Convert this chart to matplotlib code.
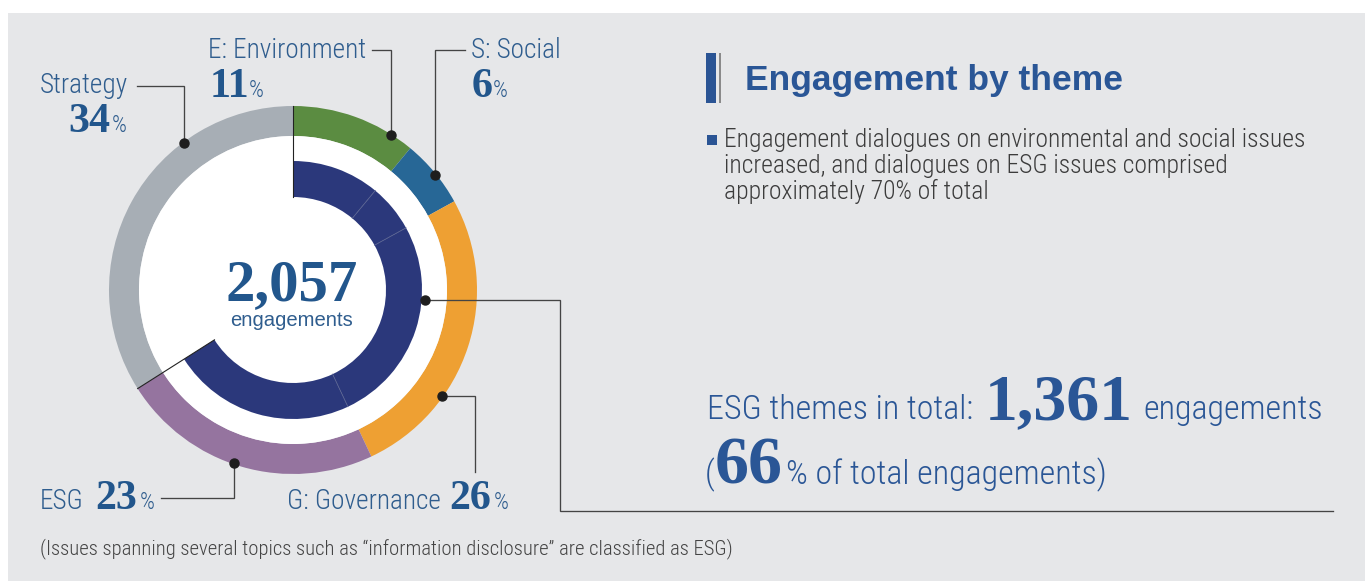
import matplotlib
matplotlib.use("Agg")
import matplotlib.pyplot as plt
from matplotlib import font_manager as fm
from matplotlib.patches import Rectangle, Circle
import numpy as np

# ---- data -------------------------------------------------------------
themes = ["E: Environment", "S: Social", "G: Governance", "ESG", "Strategy"]
shares = [11, 6, 26, 23, 34]                 # % of all engagements
is_esg = [True, True, True, True, False]     # themes counted as ESG
total_engagements = "2,057"
esg_engagements = "1,361"
esg_share = "66"

ring_colors = ["#5b8c41", "#276796", "#eea033", "#95749f", "#a7aeb5"]
NAVY = "#2b387b"
BG = "#e6e7e9"
LABEL_BLUE = "#2f5d8e"
NUM_BLUE = "#22568c"
TITLE_BLUE = "#2a5696"
TEXT_GREY = "#3c3c3c"
LEADER = "#444444"

# ---- fonts -------------------------------------------------------------
installed = {f.name for f in fm.fontManager.ttflist}


def pick(*names):
    for n in names:
        if n in installed:
            return n
    return "DejaVu Sans"


NARROW = pick("Liberation Sans Narrow", "Roboto Condensed", "Open Sans Condensed", "Liberation Sans")
SANS = pick("Liberation Sans", "Roboto", "DejaVu Sans")
SERIF = pick("Liberation Serif", "DejaVu Serif")
LIGHT = "light"

# ---- canvas in pixel units ----------------------------------------------
W, H = 1365, 581
fig = plt.figure(figsize=(W / 100, H / 100), dpi=100, facecolor="white")
ax = fig.add_axes([0, 0, 1, 1])
renderer = fig.canvas.get_renderer()


def Y(y):
    return H - y


def fit(x0, x1, yb, s, family, color, weight="normal", size=None):
    """Place text on baseline yb starting at x0; scale it to end at x1 unless size is given."""
    t = ax.text(x0, Y(yb), s, fontsize=size or 20, family=[family, "DejaVu Sans"],
                weight=weight, color=color, va="baseline", ha="left", zorder=10)
    if size is None:
        w = t.get_window_extent(renderer).width
        size = 20 * (x1 - x0) / w
        t.set_fontsize(size)
    return size


ax.add_patch(Rectangle((8, 0), W - 8, H - 13, facecolor=BG, edgecolor="none", zorder=0))

# ---- donut -------------------------------------------------------------
cx, cy = 293, Y(290)
R_OUT, R_OUT_IN = 184, 154
R_NAVY, R_NAVY_IN = 129, 93

outer, _ = ax.pie(shares, radius=R_OUT, center=(cx, cy), startangle=90, counterclock=False,
                  colors=ring_colors, wedgeprops=dict(width=R_OUT - R_OUT_IN, linewidth=0))
for w in outer:
    w.set_zorder(1)
ax.add_patch(Circle((cx, cy), R_OUT_IN, facecolor="white", edgecolor="none", zorder=1.5))

navy_colors = [NAVY if f else "none" for f in is_esg]
inner, _ = ax.pie(shares, radius=R_NAVY, center=(cx, cy), startangle=90, counterclock=False,
                  colors=navy_colors, wedgeprops=dict(width=R_NAVY - R_NAVY_IN, linewidth=0))
for w in inner:
    w.set_zorder(2)

frac = np.cumsum(shares) / np.sum(shares)


def polar(f, r):
    th = np.deg2rad(90 - 360 * f)
    return cx + r * np.cos(th), cy + r * np.sin(th)


# thin separators between the ESG themes inside the navy ring
for f in frac[:3]:
    (x0, y0), (x1, y1) = polar(f, R_NAVY_IN), polar(f, R_NAVY)
    ax.plot([x0, x1], [y0, y1], color="#56608f", lw=0.6, zorder=3)

# dark separators where the ESG group starts and ends
esg_end = frac[int(np.sum(is_esg)) - 1]
for f in (0.0, esg_end):
    (x0, y0), (x1, y1) = polar(f, R_NAVY_IN), polar(f, R_OUT)
    ax.plot([x0, x1], [y0, y1], color="#222222", lw=0.8, zorder=3)


def dot(x, y):
    ax.plot([x], [y], "o", color="#1e1e1e", ms=6.5, zorder=6)


def leader(pts):
    xs, ys = zip(*pts)
    ax.plot(xs, ys, color=LEADER, lw=0.95, zorder=5, solid_joinstyle="miter")


# leader anchors (fraction of the way round the ring, clockwise from top)
R_DOT = 183
anchor = {"Strategy": 0.898, "E: Environment": 0.09, "S: Social": 0.142,
          "G: Governance": 0.348, "ESG": 0.552}

x, y = polar(anchor["Strategy"], R_DOT)
leader([(x, y), (x, Y(86)), (137, Y(86))]); dot(x, y)
x, y = polar(anchor["E: Environment"], R_DOT)
leader([(x, y), (x, Y(50)), (372, Y(50))]); dot(x, y)
x, y = polar(anchor["S: Social"], R_DOT)
leader([(x, y), (x, Y(50)), (465, Y(50))]); dot(x, y)
x, y = polar(anchor["G: Governance"], R_DOT)
leader([(x, y), (475, y), (475, Y(472))]); dot(x, y)
x, y = polar(anchor["ESG"], R_DOT)
leader([(x, y), (x, Y(498)), (161, Y(498))]); dot(x, y)
x, y = polar(0.262, 132)
leader([(x, y), (560, y), (560, Y(511)), (1333, Y(511))]); dot(x, y)

# ---- ring labels -----------------------------------------------------------
lab = fit(40, 128, 93, themes[4], NARROW, LABEL_BLUE, weight=LIGHT)
fit(208, 365, 58, themes[0], NARROW, LABEL_BLUE, weight=LIGHT, size=lab)
fit(471, 562, 58, themes[1], NARROW, LABEL_BLUE, weight=LIGHT, size=lab)
fit(40, 88, 509, themes[3], NARROW, LABEL_BLUE, weight=LIGHT, size=lab)
fit(287, 441, 509, themes[2], NARROW, LABEL_BLUE, weight=LIGHT, size=lab)

num = fit(68, 110, 132, str(shares[4]), SERIF, NUM_BLUE, weight="bold")
pct = fit(112, 127, 132, "%", NARROW, LABEL_BLUE, weight=LIGHT)
fit(210, 248, 97, str(shares[0]), SERIF, NUM_BLUE, weight="bold", size=num)
fit(249, 264, 97, "%", NARROW, LABEL_BLUE, weight=LIGHT, size=pct)
fit(472, 490, 97, str(shares[1]), SERIF, NUM_BLUE, weight="bold", size=num)
fit(493, 508, 97, "%", NARROW, LABEL_BLUE, weight=LIGHT, size=pct)
fit(95, 137, 509, str(shares[3]), SERIF, NUM_BLUE, weight="bold", size=num)
fit(140, 155, 509, "%", NARROW, LABEL_BLUE, weight=LIGHT, size=pct)
fit(449, 491, 509, str(shares[2]), SERIF, NUM_BLUE, weight="bold", size=num)
fit(494, 510, 509, "%", NARROW, LABEL_BLUE, weight=LIGHT, size=pct)

# ---- centre ----------------------------------------------------------------
fit(226, 358, 300, total_engagements, SERIF, NUM_BLUE, weight="bold")
fit(230, 352, 326, "engagements", SANS, LABEL_BLUE)

# ---- heading and comment ------------------------------------------------------
ax.add_patch(Rectangle((706, Y(103)), 10, 50, facecolor="#2a5494", edgecolor="none", zorder=4))
ax.add_patch(Rectangle((719, Y(103)), 2, 50, facecolor="#8a8a8a", edgecolor="none", zorder=4))
fit(745, 1122, 90, "Engagement by theme", SANS, TITLE_BLUE, weight="bold")

ax.add_patch(Rectangle((707, Y(145)), 10, 10, facecolor="#2a5494", edgecolor="none", zorder=4))
body = fit(724, 1305, 147, "Engagement dialogues on environmental and social issues",
           NARROW, TEXT_GREY, weight=LIGHT)
fit(724, 0, 173, "increased, and dialogues on ESG issues comprised", NARROW, TEXT_GREY,
    weight=LIGHT, size=body)
fit(724, 0, 199, "approximately 70% of total", NARROW, TEXT_GREY, weight=LIGHT, size=body)

# ---- ESG total -------------------------------------------------------------
big = fit(707, 973, 419, "ESG themes in total:", NARROW, TITLE_BLUE, weight=LIGHT)
fit(985, 1133, 419, esg_engagements, SERIF, TITLE_BLUE, weight="bold")
fit(1143, 0, 419, "engagements", NARROW, TITLE_BLUE, weight=LIGHT, size=big)
fit(705, 0, 484, "(", NARROW, TITLE_BLUE, weight=LIGHT, size=big)
fit(715, 783, 484, esg_share, SERIF, TITLE_BLUE, weight="bold")
fit(786, 0, 484, "% of total engagements)", NARROW, TITLE_BLUE, weight=LIGHT, size=big)

# ---- footnote --------------------------------------------------------------
fit(40, 732, 554,
    "(Issues spanning several topics such as \u201cinformation disclosure\u201d are classified as ESG)",
    NARROW, "#444444", weight=LIGHT)

ax.set_xlim(0, W)
ax.set_ylim(0, H)
ax.set_aspect("auto")
ax.axis("off")
fig.savefig("out.png", dpi=100, facecolor="white")
